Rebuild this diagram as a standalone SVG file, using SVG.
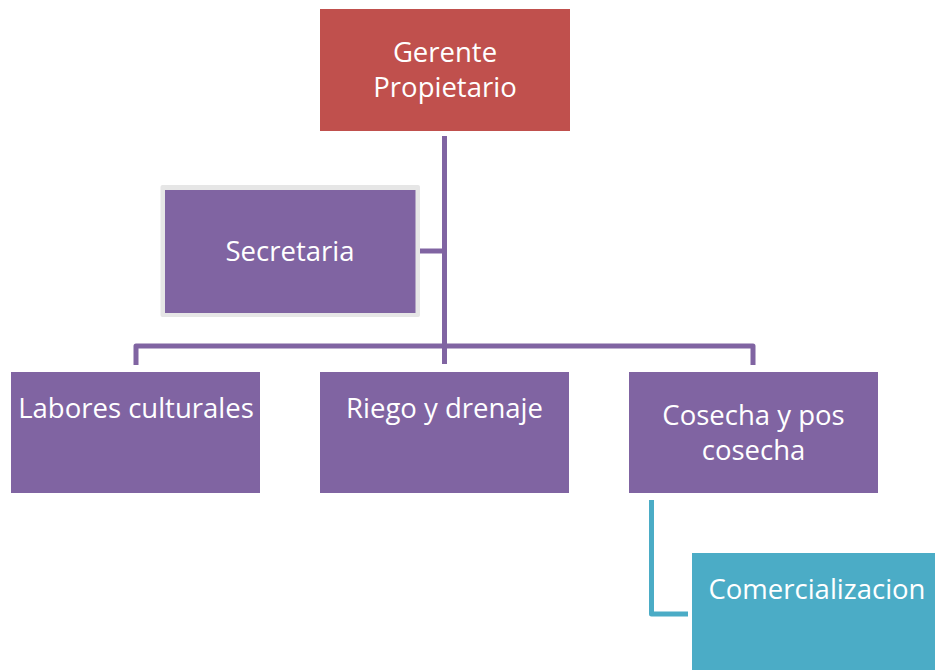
<svg xmlns="http://www.w3.org/2000/svg" width="935" height="670" viewBox="0 0 935 670">
<style>
.t{font-family:"Open Sans","Liberation Sans",sans-serif;font-size:27.5px;fill:#ffffff;text-anchor:middle}
.p{fill:#8064A2}
.c{fill:none;stroke:#8064A2;stroke-width:5;stroke-linejoin:round}
</style>
<rect width="935" height="670" fill="#ffffff"/>
<g id="connectors">
<path class="c" d="M444.5 136 V364"/>
<path class="c" d="M416 251 H444.5"/>
<path class="c" d="M136 365 V346 H753 V365"/>
<path d="M651.5 500 V614 H688" fill="none" stroke="#4BACC6" stroke-width="5" stroke-linejoin="round"/>
</g>
<g id="gerente">
<rect x="320" y="9" width="250" height="122" fill="#C0504D"/>
<text class="t" x="445" y="62">Gerente</text>
<text class="t" x="445" y="97">Propietario</text>
</g>
<g id="secretaria">
<rect x="160.5" y="185" width="259.5" height="132" fill="#E6E6E6" rx="2"/>
<rect class="p" x="165" y="190" width="250.5" height="123"/>
<text class="t" x="290" y="261">Secretaria</text>
</g>
<g id="labores">
<rect class="p" x="11" y="372" width="249" height="121"/>
<text class="t" x="136" y="418">Labores culturales</text>
</g>
<g id="riego">
<rect class="p" x="320" y="372" width="249" height="121"/>
<text class="t" x="444.5" y="418">Riego y drenaje</text>
</g>
<g id="cosecha">
<rect class="p" x="629" y="372" width="249" height="121"/>
<text class="t" x="753.5" y="425">Cosecha y pos</text>
<text class="t" x="753.5" y="460">cosecha</text>
</g>
<g id="comercializacion">
<rect x="692" y="553" width="243" height="117" fill="#4BACC6"/>
<text class="t" x="817" y="599">Comercializacion</text>
</g>
</svg>
